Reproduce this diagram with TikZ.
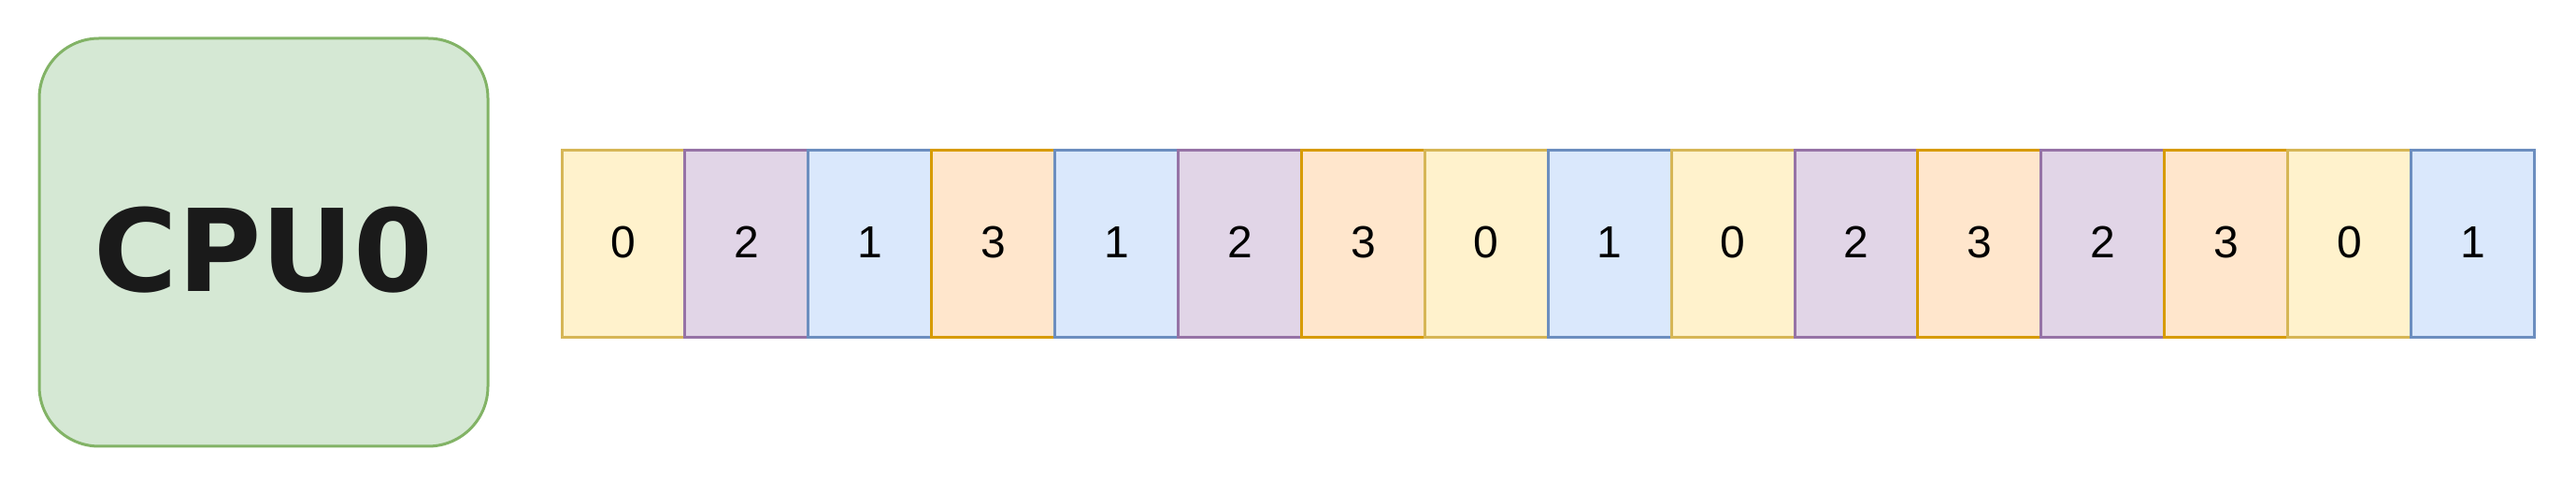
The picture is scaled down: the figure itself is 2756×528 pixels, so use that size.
\documentclass[tikz,border=0pt]{standalone}
\usepackage{fontspec}
\setmainfont{Liberation Sans}
\newfontfamily\cpufont{DejaVu Sans}
\definecolor{yfill}{HTML}{FFF2CC}\definecolor{ydraw}{HTML}{D6B656}
\definecolor{pfill}{HTML}{E1D5E7}\definecolor{pdraw}{HTML}{9673A6}
\definecolor{bfill}{HTML}{DAE8FC}\definecolor{bdraw}{HTML}{6C8EBF}
\definecolor{ofill}{HTML}{FFE6CC}\definecolor{odraw}{HTML}{D79B00}
\definecolor{gfill}{HTML}{D5E8D4}\definecolor{gdraw}{HTML}{82B366}
\definecolor{cputext}{HTML}{1A1A1A}
\tikzset{
  cell/.style={draw, line width=1.5pt, minimum width=65.95pt, minimum height=100pt,
    inner sep=0pt, font=\fontsize{24}{28}\selectfont, text=black},
  c0/.style={cell, fill=yfill, draw=ydraw},
  c1/.style={cell, fill=bfill, draw=bdraw},
  c2/.style={cell, fill=pfill, draw=pdraw},
  c3/.style={cell, fill=ofill, draw=odraw},
  digit/.style={inner sep=0pt, font=\fontsize{24}{28}\selectfont, text=black},
  cpubox/.style={draw=gdraw, fill=gfill, line width=1.5pt, rounded corners=32pt,
    minimum width=240pt, minimum height=218pt, inner sep=0pt},
  cputxt/.style={inner sep=0pt, font=\cpufont\bfseries\fontsize{61}{70}\selectfont, text=cputext}
}
\begin{document}
\begin{tikzpicture}[x=0.5pt,y=-0.5pt]
\useasboundingbox (0,0) rectangle (2756,528);
\node[cpubox] (cpu) at (282,259) {};
\node[cputxt] (cpulabel) at ([yshift=-4pt]cpu.center) {CPU0};
\foreach \v [count=\i] in {0,2,1,3,1,2,3,0,1,0,2,3,2,3,0,1}{
  \node[c\v] (c\i) at ({601+131.9*(\i-0.5)},261) {};
  \node[digit] (t\i) at ([yshift=1pt]c\i.center) {\v};
}
\end{tikzpicture}
\end{document}
